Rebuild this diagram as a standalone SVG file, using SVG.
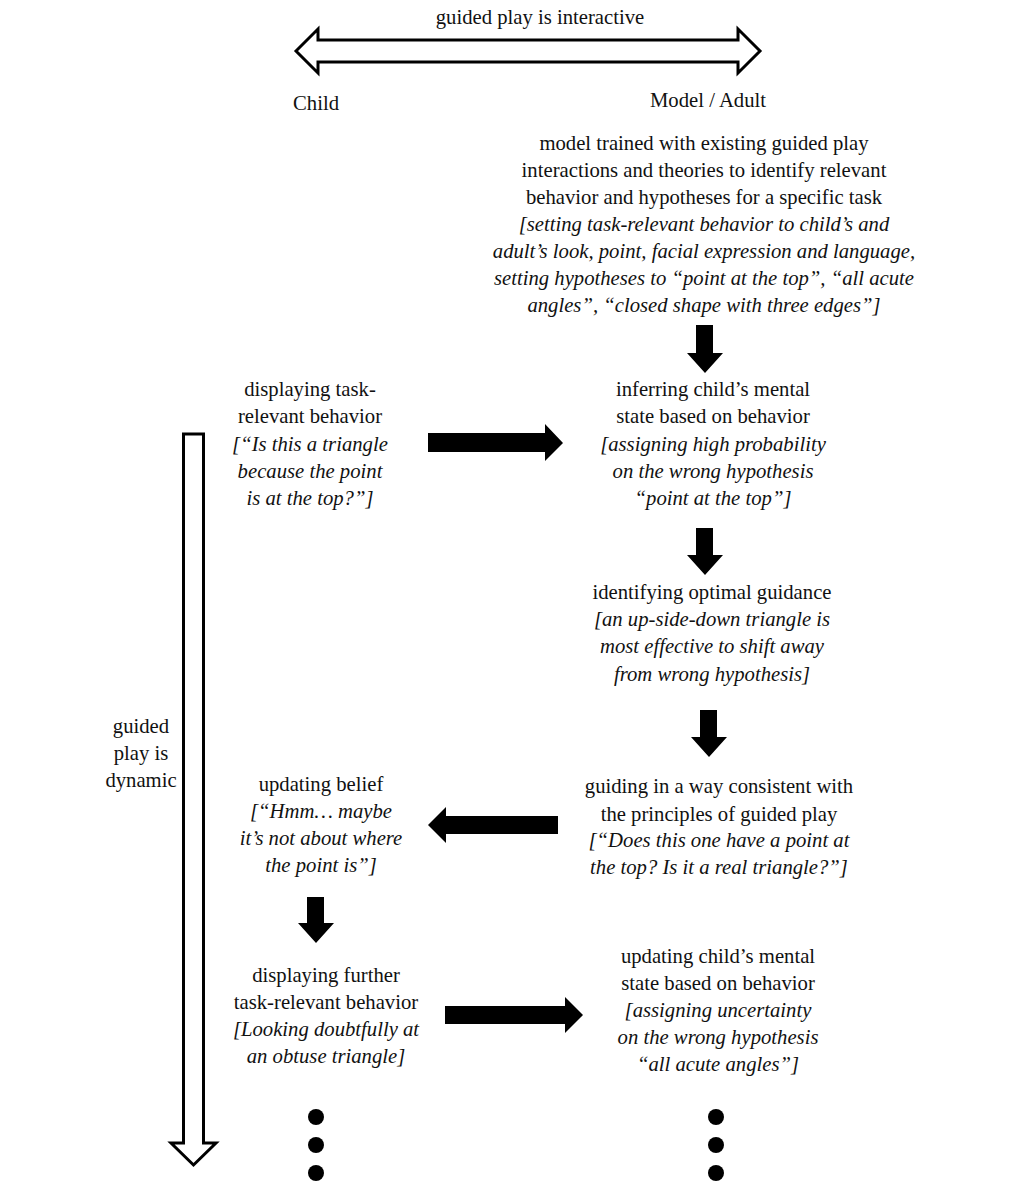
<svg xmlns="http://www.w3.org/2000/svg" width="1032" height="1203" viewBox="0 0 1032 1203">
<style>
text{font-family:"Liberation Serif",Tinos,"Times New Roman",Times,"DejaVu Serif",serif;font-size:20.7px;fill:#111;text-anchor:middle}
.i{font-style:italic}
.hollow{fill:#fff;stroke:#000;stroke-width:3;stroke-linejoin:miter}
.solid{fill:#000}
</style>
<rect width="1032" height="1203" fill="#fff"/>
<g id="connectors">
<path class="hollow" d="M296,51 L318,29 L318,40 L738,40 L738,29 L760,51 L738,73 L738,62 L318,62 L318,73 Z"/>
<path class="hollow" d="M183.5,434 L203.5,434 L203.5,1143 L216,1143 L193.5,1165 L171,1143 L183.5,1143 Z"/>
<path class="solid" d="M696,325 L713,325 L713,353 L723,353 L705,373 L687,353 L696,353 Z"/>
<path class="solid" d="M696,528 L713,528 L713,555 L723,555 L705,575 L687,555 L696,555 Z"/>
<path class="solid" d="M700,710 L717,710 L717,737 L727,737 L709,757 L691,737 L700,737 Z"/>
<path class="solid" d="M307,897 L324,897 L324,923 L334,923 L316,943 L298,923 L307,923 Z"/>
<path class="solid" d="M428,433 L545,433 L545,424 L563,443 L545,461 L545,452 L428,452 Z"/>
<path class="solid" d="M558,816 L446,816 L446,807 L428,825 L446,843 L446,834 L558,834 Z"/>
<path class="solid" d="M445,1006 L565,1006 L565,997 L583,1015 L565,1033 L565,1024 L445,1024 Z"/>
<circle class="solid" cx="316" cy="1117" r="8"/>
<circle class="solid" cx="316" cy="1145" r="8"/>
<circle class="solid" cx="316" cy="1173" r="8"/>
<circle class="solid" cx="716" cy="1117" r="8"/>
<circle class="solid" cx="716" cy="1145" r="8"/>
<circle class="solid" cx="716" cy="1173" r="8"/>
</g>
<g id="title"><text x="540" y="24">guided play is interactive</text></g>
<g id="child-label"><text x="316" y="110">Child</text></g>
<g id="adult-label"><text x="708" y="107">Model / Adult</text></g>
<g id="model-trained">
<text x="704" y="150">model trained with existing guided play</text>
<text x="704" y="177">interactions and theories to identify relevant</text>
<text x="704" y="204">behavior and hypotheses for a specific task</text>
<text class="i" x="704" y="231">[setting task-relevant behavior to child’s and</text>
<text class="i" x="704" y="258">adult’s look, point, facial expression and language,</text>
<text class="i" x="704" y="285">setting hypotheses to “point at the top”, “all acute</text>
<text class="i" x="704" y="312">angles”, “closed shape with three edges”]</text>
</g>
<g id="displaying">
<text x="310" y="396">displaying task-</text>
<text x="310" y="423">relevant behavior</text>
<text class="i" x="310" y="451">[“Is this a triangle</text>
<text class="i" x="310" y="478">because the point</text>
<text class="i" x="310" y="505">is at the top?”]</text>
</g>
<g id="inferring">
<text x="713" y="396">inferring child’s mental</text>
<text x="713" y="423">state based on behavior</text>
<text class="i" x="713" y="451">[assigning high probability</text>
<text class="i" x="713" y="478">on the wrong hypothesis</text>
<text class="i" x="713" y="505">“point at the top”]</text>
</g>
<g id="identifying">
<text x="712" y="599">identifying optimal guidance</text>
<text class="i" x="712" y="626">[an up-side-down triangle is</text>
<text class="i" x="712" y="653">most effective to shift away</text>
<text class="i" x="712" y="681">from wrong hypothesis]</text>
</g>
<g id="dynamic">
<text x="141" y="733">guided</text>
<text x="141" y="760">play is</text>
<text x="141" y="787">dynamic</text>
</g>
<g id="updating-belief">
<text x="321" y="791">updating belief</text>
<text class="i" x="321" y="818">[“Hmm… maybe</text>
<text class="i" x="321" y="845">it’s not about where</text>
<text class="i" x="321" y="872">the point is”]</text>
</g>
<g id="guiding">
<text x="719" y="793">guiding in a way consistent with</text>
<text x="719" y="821">the principles of guided play</text>
<text class="i" x="719" y="847">[“Does this one have a point at</text>
<text class="i" x="719" y="874">the top? Is it a real triangle?”]</text>
</g>
<g id="displaying-further">
<text x="326" y="982">displaying further</text>
<text x="326" y="1009">task-relevant behavior</text>
<text class="i" x="326" y="1036">[Looking doubtfully at</text>
<text class="i" x="326" y="1063">an obtuse triangle]</text>
</g>
<g id="updating-mental">
<text x="718" y="963">updating child’s mental</text>
<text x="718" y="990">state based on behavior</text>
<text class="i" x="718" y="1017">[assigning uncertainty</text>
<text class="i" x="718" y="1044">on the wrong hypothesis</text>
<text class="i" x="718" y="1071">“all acute angles”]</text>
</g>
</svg>
